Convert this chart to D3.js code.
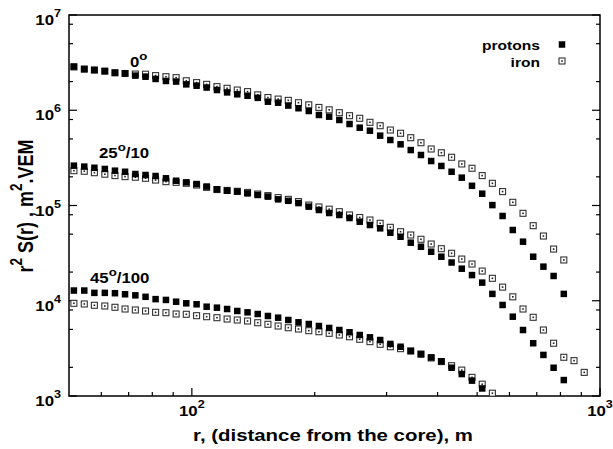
<!DOCTYPE html>
<html><head><meta charset="utf-8">
<script src="https://cdn.jsdelivr.net/npm/d3@7"></script>
<style>
body{margin:0;background:#fff}
svg{display:block}
text{font-family:"Liberation Sans",Arial,Helvetica,sans-serif;font-weight:bold;fill:#000}
</style>
</head><body>
<svg id="chart" width="613" height="449"></svg>
<script>
// ---------- data ----------
const radius = [51.4, 54.5, 57.7, 61.2, 64.8, 68.6, 72.7, 77.0, 81.5, 86.4, 91.5, 96.9,
  102.7, 108.7, 115.2, 122.0, 129.2, 136.9, 145.0, 153.6, 162.7, 172.3, 182.5, 193.4,
  204.8, 217.0, 229.8, 243.4, 257.8, 273.1, 289.3, 306.4, 324.6, 343.8, 364.2, 385.8,
  408.6, 432.9, 458.5, 485.7, 514.5, 544.9, 577.2, 611.4, 647.7, 686.0, 726.7, 769.7,
  815.3, 863.7, 914.8];

const protons0 = [2.87e6, 2.71e6, 2.65e6, 2.58e6, 2.48e6, 2.44e6, 2.31e6, 2.25e6, 2.13e6, 2.03e6,
  2.00e6, 1.87e6, 1.81e6, 1.73e6, 1.63e6, 1.54e6, 1.47e6, 1.42e6, 1.35e6, 1.23e6, 1.20e6,
  1.12e6, 1.05e6, 9.82e5, 8.92e5, 8.56e5, 7.90e5, 7.17e5, 6.56e5, 6.10e5, 5.41e5, 4.87e5,
  4.39e5, 3.82e5, 3.39e5, 2.93e5, 2.60e5, 2.26e5, 1.96e5, 1.61e5, 1.33e5, 1.01e5, 7.76e4,
  5.53e4, 4.17e4, 2.90e4, 2.28e4, 1.82e4, 1.18e4];
const iron0 = [2.85e6, 2.70e6, 2.64e6, 2.57e6, 2.47e6, 2.43e6, 2.40e6, 2.39e6, 2.31e6, 2.25e6,
  2.20e6, 2.04e6, 1.95e6, 1.87e6, 1.77e6, 1.70e6, 1.63e6, 1.57e6, 1.45e6, 1.36e6, 1.31e6,
  1.27e6, 1.20e6, 1.14e6, 1.07e6, 1.01e6, 9.43e5, 8.77e5, 8.23e5, 7.47e5, 6.88e5, 6.20e5,
  5.73e5, 5.15e5, 4.56e5, 3.92e5, 3.58e5, 3.21e5, 2.73e5, 2.46e5, 2.06e5, 1.71e5, 1.40e5,
  1.08e5, 8.28e4, 6.14e4, 4.78e4, 3.49e4, 2.68e4];
const protons25 = [2.62e5, 2.56e5, 2.49e5, 2.42e5, 2.32e5, 2.26e5, 2.14e5, 2.09e5, 2.04e5, 1.93e5,
  1.82e5, 1.75e5, 1.68e5, 1.58e5, 1.48e5, 1.43e5, 1.40e5, 1.34e5, 1.29e5, 1.24e5, 1.16e5,
  1.12e5, 1.06e5, 9.72e4, 8.97e4, 8.34e4, 7.95e4, 7.39e4, 6.76e4, 6.24e4, 5.76e4, 5.18e4,
  4.70e4, 4.07e4, 3.69e4, 3.27e4, 2.90e4, 2.52e4, 2.17e4, 1.86e4, 1.55e4, 1.18e4, 9.03e3,
  6.80e3, 4.93e3, 3.58e3, 2.70e3, 1.98e3, 1.47e3];
const iron25 = [2.32e5, 2.29e5, 2.21e5, 2.13e5, 2.06e5, 2.01e5, 1.98e5, 1.93e5, 1.85e5, 1.78e5,
  1.75e5, 1.71e5, 1.64e5, 1.55e5, 1.47e5, 1.44e5, 1.41e5, 1.37e5, 1.32e5, 1.27e5, 1.21e5,
  1.16e5, 1.10e5, 1.01e5, 9.65e4, 9.15e4, 8.61e4, 7.95e4, 7.48e4, 7.04e4, 6.50e4, 5.90e4,
  5.31e4, 4.90e4, 4.42e4, 3.94e4, 3.52e4, 3.15e4, 2.74e4, 2.43e4, 2.05e4, 1.72e4, 1.39e4,
  1.10e4, 8.19e3, 6.70e3, 4.93e3, 3.58e3, 2.55e3, 2.35e3, 1.77e3];
const protons45 = [1.28e4, 1.28e4, 1.21e4, 1.21e4, 1.20e4, 1.17e4, 1.14e4, 1.10e4, 1.04e4, 1.02e4,
  9.77e3, 9.40e3, 9.18e3, 8.66e3, 8.46e3, 8.19e3, 7.81e3, 7.56e3, 7.26e3, 6.92e3, 6.64e3,
  6.28e3, 5.94e3, 5.70e3, 5.43e3, 5.18e3, 4.93e3, 4.67e3, 4.37e3, 4.13e3, 3.87e3, 3.52e3,
  3.29e3, 2.97e3, 2.74e3, 2.54e3, 2.31e3, 1.98e3, 1.70e3, 1.45e3, 1.20e3];
const iron45 = [9.40e3, 9.25e3, 8.96e3, 8.81e3, 8.54e3, 8.19e3, 8.00e3, 7.81e3, 7.56e3, 7.49e3,
  7.26e3, 7.21e3, 6.97e3, 6.80e3, 6.64e3, 6.43e3, 6.28e3, 6.13e3, 5.88e3, 5.66e3, 5.43e3,
  5.21e3, 5.05e3, 4.85e3, 4.73e3, 4.55e3, 4.37e3, 4.19e3, 3.94e3, 3.72e3, 3.49e3, 3.29e3,
  3.14e3, 2.97e3, 2.76e3, 2.51e3, 2.30e3, 2.08e3, 1.87e3, 1.57e3, 1.33e3, 1.07e3];

const xMajorTicks = [100, 1000];
const xMajorExponents = ["2", "3"];
const xMinorTicks = [60, 70, 80, 90, 200, 300, 400, 500, 600, 700, 800, 900];
const yMajorTicks = [1e3, 1e4, 1e5, 1e6, 1e7];
const yMajorExponents = ["3", "4", "5", "6", "7"];
const yMinorTicks = [2e3, 5e3, 8e3, 2e4, 5e4, 8e4, 2e5, 5e5, 8e5, 2e6, 5e6, 8e6];
const legendNames = ["protons", "iron"];
const groupLabels = [["0", "o", ""], ["25", "o", "/10"], ["45", "o", "/100"]];

// ---------- layout ----------
const L = 69, R = 600, T = 15, B = 396;
const SX = 1.2; // horizontal stretch of the lettering
const svg = d3.select("#chart");
const x = d3.scaleLog().domain([50, 1000]).range([L, R]);
const y = d3.scaleLog().domain([1e3, 1e7]).range([B, T]);

function label(px, py, anchor, size, extraTransform) {
  const g = svg.append("g").attr("transform", `translate(${px},${py}) scale(${SX},1)` + (extraTransform || ""));
  return g.append("text").attr("text-anchor", anchor).attr("font-size", size);
}

// frame
svg.append("rect").attr("x", L).attr("y", T).attr("width", R - L).attr("height", B - T)
  .attr("fill", "none").attr("stroke", "#000").attr("stroke-width", 1.5);

const ticks = svg.append("g").attr("stroke", "#000").attr("stroke-width", 1.2);
yMajorTicks.forEach(v => {
  ticks.append("line").attr("x1", L).attr("x2", L + 8).attr("y1", y(v)).attr("y2", y(v));
  ticks.append("line").attr("x1", R - 8).attr("x2", R).attr("y1", y(v)).attr("y2", y(v));
});
yMinorTicks.forEach(v => {
  ticks.append("line").attr("x1", L).attr("x2", L + 4).attr("y1", y(v)).attr("y2", y(v));
  ticks.append("line").attr("x1", R - 4).attr("x2", R).attr("y1", y(v)).attr("y2", y(v));
});
xMajorTicks.forEach(v => {
  ticks.append("line").attr("x1", x(v)).attr("x2", x(v)).attr("y1", B).attr("y2", B - 8);
});
xMinorTicks.forEach(v => {
  ticks.append("line").attr("x1", x(v)).attr("x2", x(v)).attr("y1", B).attr("y2", B - 4);
});

// tick labels
yMajorTicks.forEach((v, i) => {
  const t = label(61, y(v) + 10, "end", 14);
  t.append("tspan").text("10");
  t.append("tspan").attr("dy", -8).attr("font-size", 10.5).text(yMajorExponents[i]);
});
xMajorTicks.forEach((v, i) => {
  const t = label(x(v), 416, "middle", 14);
  t.append("tspan").text("10");
  t.append("tspan").attr("dy", -8).attr("font-size", 10.5).text(xMajorExponents[i]);
});

// axis titles
label(333, 441, "middle", 17).text("r, (distance from the core), m");
const yt = label(33, 206, "middle", 18, " rotate(-90)");
yt.append("tspan").text("r");
yt.append("tspan").attr("dy", -9).attr("font-size", 13.5).text("2");
yt.append("tspan").attr("dy", 9).text(" S(r) , m");
yt.append("tspan").attr("dy", -9).attr("font-size", 13.5).text("2");
yt.append("tspan").attr("dy", 9).text(".VEM");

// markers
const S = 6.5, O = 6;
function filled(g, xs, ys) {
  g.selectAll(null).data(ys).enter().append("rect")
    .attr("x", (d, i) => x(xs[i]) - S / 2).attr("y", d => y(d) - S / 2)
    .attr("width", S).attr("height", S).attr("fill", "#000");
}
function open(g, xs, ys) {
  const sel = g.selectAll(null).data(ys).enter().append("g")
    .attr("transform", (d, i) => `translate(${x(xs[i])},${y(d)})`);
  sel.append("rect").attr("x", -O / 2).attr("y", -O / 2).attr("width", O).attr("height", O)
    .attr("fill", "#fff").attr("stroke", "#333").attr("stroke-width", 1.1);
  sel.append("rect").attr("x", -0.8).attr("y", -0.8).attr("width", 1.6).attr("height", 1.6)
    .attr("fill", "#222");
}
const plot = svg.append("g");
[[iron0, protons0], [iron25, protons25], [iron45, protons45]].forEach(([fe, p]) => {
  open(plot, radius, fe);
  filled(plot, radius, p);
});

// group labels
const labelPos = [[130, 66.5], [99, 158], [90, 283]];
groupLabels.forEach((g, i) => {
  const t = label(labelPos[i][0], labelPos[i][1], "start", 14);
  t.append("tspan").text(g[0]);
  t.append("tspan").attr("dy", -7).attr("font-size", 11).text(g[1]);
  t.append("tspan").attr("dy", 7).text(g[2]);
});

// legend
const legY = [50, 67];
legendNames.forEach((n, i) => {
  label(540, legY[i], "end", 13).text(n);
});
const lg = svg.append("g");
lg.append("rect").attr("x", 562 - S / 2).attr("y", 44.5 - S / 2).attr("width", S).attr("height", S).attr("fill", "#000");
const lo = lg.append("g").attr("transform", "translate(562,61)");
lo.append("rect").attr("x", -O / 2).attr("y", -O / 2).attr("width", O).attr("height", O)
  .attr("fill", "#fff").attr("stroke", "#333").attr("stroke-width", 1.1);
lo.append("rect").attr("x", -0.8).attr("y", -0.8).attr("width", 1.6).attr("height", 1.6).attr("fill", "#222");
</script>
</body></html>
